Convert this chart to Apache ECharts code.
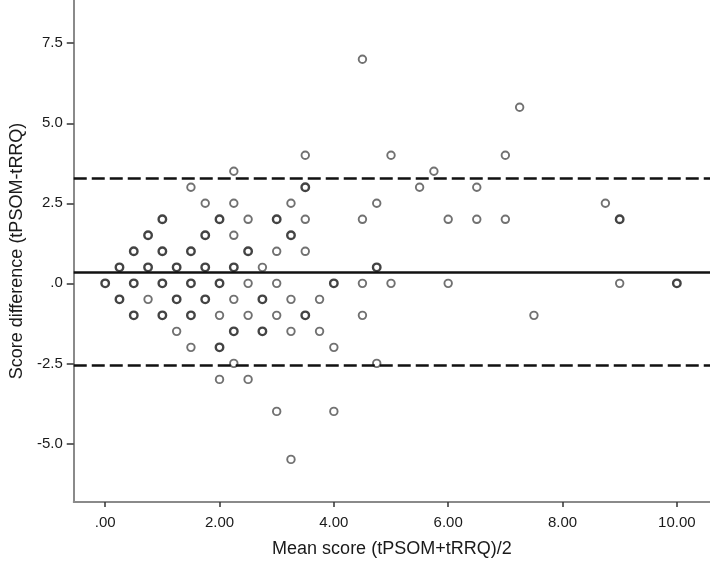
<!DOCTYPE html>
<html>
<head>
<meta charset="utf-8">
<script src="https://cdn.jsdelivr.net/npm/echarts@6/dist/echarts.min.js"></script>
<style>
html,body{margin:0;padding:0;background:#fff;}
#chart{width:710px;height:563px;}
</style>
</head>
<body>
<div id="chart"></div>
<script>
// Points drawn with a heavier outline (overlapping observations)
const densePoints = [
  [3.5,3.0],
  [1.0,2.0],[2.0,2.0],[3.0,2.0],
  [0.75,1.5],[1.75,1.5],[3.25,1.5],
  [0.5,1.0],[1.0,1.0],[1.5,1.0],[2.5,1.0],
  [0.25,0.5],[0.75,0.5],[1.25,0.5],[1.75,0.5],[2.25,0.5],
  [0.0,0.0],[0.5,0.0],[1.0,0.0],[1.5,0.0],[2.0,0.0],[4.0,0.0],
  [0.25,-0.5],[1.25,-0.5],[1.75,-0.5],[2.75,-0.5],
  [0.5,-1.0],[1.0,-1.0],[1.5,-1.0],[3.5,-1.0],
  [2.25,-1.5],[2.75,-1.5],
  [2.0,-2.0],
  [9.0,2.0],[4.75,0.5],[10.0,0.0]
];
// Points drawn with a single outline
const singlePoints = [
  [3.5,4.0],[2.25,3.5],[1.5,3.0],
  [1.75,2.5],[2.25,2.5],[3.25,2.5],
  [2.5,2.0],[3.5,2.0],
  [2.25,1.5],
  [3.0,1.0],[3.5,1.0],
  [2.75,0.5],
  [2.5,0.0],[3.0,0.0],
  [0.75,-0.5],[2.25,-0.5],[3.25,-0.5],[3.75,-0.5],
  [2.0,-1.0],[2.5,-1.0],[3.0,-1.0],
  [1.25,-1.5],[3.25,-1.5],[3.75,-1.5],
  [1.5,-2.0],[4.0,-2.0],
  [2.25,-2.5],
  [2.0,-3.0],[2.5,-3.0],
  [3.0,-4.0],[4.0,-4.0],
  [3.25,-5.5],
  [4.5,7.0],[7.25,5.5],[5.0,4.0],[7.0,4.0],[5.75,3.5],
  [5.5,3.0],[6.5,3.0],[4.75,2.5],[8.75,2.5],
  [4.5,2.0],[6.0,2.0],[6.5,2.0],[7.0,2.0],
  [4.5,0.0],[5.0,0.0],[6.0,0.0],[9.0,0.0],
  [4.5,-1.0],[7.5,-1.0],
  [4.75,-2.5]
];
const meanDifference = 0.36;
const upperLimit = 3.27;
const lowerLimit = -2.55;
const xTicks = [0,2,4,6,8,10];
const yTicks = [-5,-2.5,0,2.5,5,7.5];
const xTitle = 'Mean score (tPSOM+tRRQ)/2';
const yTitle = 'Score difference (tPSOM-tRRQ)';

const fontFamily = '"Liberation Sans", Arial, sans-serif';
const chart = echarts.init(document.getElementById('chart'), null, {renderer:'canvas'});
chart.setOption({
  animation: false,
  backgroundColor: '#ffffff',
  grid: {left: 72, right: 0, top: 0, bottom: 61, containLabel: false},
  xAxis: {
    type: 'value', min: -0.55, max: 10.58,
    name: xTitle, nameLocation: 'middle', nameGap: 38,
    nameTextStyle: {fontFamily, fontSize: 18, color: '#1a1a1a'},
    axisLine: {show: true, onZero: false, lineStyle: {color: '#8a8a8a', width: 2}},
    axisTick: {show: true, customValues: xTicks, length: 5, lineStyle: {color: '#333', width: 1.5}},
    axisLabel: {customValues: xTicks, margin: 13, fontFamily, fontSize: 15, color: '#1a1a1a',
      formatter: v => v === 0 ? '.00' : v.toFixed(2)},
    splitLine: {show: false}
  },
  yAxis: {
    type: 'value', min: -6.83, max: 8.85,
    name: yTitle, nameLocation: 'middle', nameGap: 47,
    nameTextStyle: {fontFamily, fontSize: 18, color: '#1a1a1a'},
    axisLine: {show: true, onZero: false, lineStyle: {color: '#8a8a8a', width: 2}},
    axisTick: {show: true, customValues: yTicks, length: 7, lineStyle: {color: '#333', width: 1.5}},
    axisLabel: {customValues: yTicks, margin: 11, fontFamily, fontSize: 15, color: '#1a1a1a',
      formatter: v => v === 0 ? '.0' : v.toFixed(1)},
    splitLine: {show: false}
  },
  series: [
    {
      type: 'scatter', data: singlePoints, symbol: 'circle', symbolSize: 7.5,
      itemStyle: {color: '#ffffff', borderColor: '#4d4d4d', borderWidth: 1.9},
      silent: true,
      markLine: {
        silent: true, symbol: 'none', label: {show: false},
        data: [
          {yAxis: meanDifference, lineStyle: {type: 'solid', color: '#111', width: 2.5}},
          {yAxis: upperLimit, lineStyle: {type: [13, 5], color: '#111', width: 2.5}},
          {yAxis: lowerLimit, lineStyle: {type: [13, 5], color: '#111', width: 2.5}}
        ]
      },
      z: 3
    },
    {
      type: 'scatter', data: densePoints, symbol: 'circle', symbolSize: 7.5,
      itemStyle: {color: '#ffffff', borderColor: '#141414', borderWidth: 2.4},
      silent: true, z: 4
    }
  ]
});
</script>
</body>
</html>
